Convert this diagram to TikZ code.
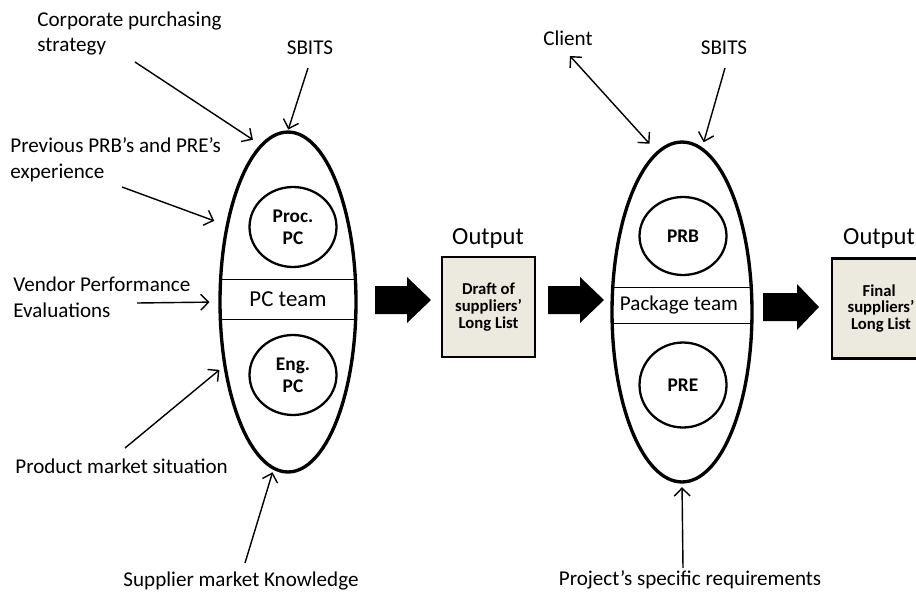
\documentclass[tikz,border=0pt]{standalone}
\usepackage{fontspec}
\setmainfont{Carlito}
\usetikzlibrary{shapes.geometric,arrows.meta}
\definecolor{boxfill}{RGB}{236,234,222}
\tikzset{
  lbl/.style={inner sep=0pt, align=left, anchor=west, font=\fontsize{12}{14.6}\selectfont},
  lblc/.style={inner sep=0pt, align=center, font=\fontsize{12}{14.6}\selectfont},
  team/.style={ellipse, draw, line width=1.9pt, minimum width=2.72cm, minimum height=6.8cm},
  member/.style={ellipse, draw, line width=1.3pt, minimum width=1.74cm, minimum height=1.6cm,
    align=center, inner sep=0pt, font=\fontsize{11}{12.5}\selectfont\bfseries},
  outbox/.style={rectangle, draw, line width=1.5pt, fill=boxfill, minimum width=1.86cm,
    minimum height=2cm, align=center, inner sep=0pt, font=\fontsize{9.5}{9.6}\selectfont\bfseries},
  outlbl/.style={inner sep=0pt, font=\fontsize{14}{16}\selectfont},
  feed/.style={line width=0.8pt, -{Straight Barb[length=4.5pt,width=9pt]}},
  feedboth/.style={line width=0.8pt, {Straight Barb[length=4.5pt,width=9pt]}-{Straight Barb[length=4.5pt,width=9pt]}},
  pics/fatarrow/.style={code={\fill (0,-14) -- (#1,-14) -- (#1,-23) -- (56,0) -- (#1,23) -- (#1,14) -- (0,14) -- cycle;}}
}
\begin{document}
\begin{tikzpicture}[x=0.02cm, y=-0.02cm]
\clip (0,0) rectangle (916,595);
\fill[white] (0,0) rectangle (916,595);

% ---- PC team ----
\node[team] (L) at (288,302) {};
\begin{scope}
  \clip (288,302) ellipse [x radius=68, y radius=170];
  \draw[line width=0.5pt] (200,279) -- (380,279) (200,319) -- (380,319);
\end{scope}
\node[inner sep=0pt, font=\fontsize{13}{15}\selectfont] (pct) at (288,299) {PC team};
\node[member] (proc) at (293,227) {Proc.\\PC};
\node[member] (eng) at (293,375) {Eng.\\PC};

% ---- Package team ----
\node[team, minimum width=2.8cm] (R) at (682,312) {};
\begin{scope}
  \clip (682,312) ellipse [x radius=70, y radius=170];
  \draw[line width=0.5pt] (600,287) -- (770,287) (600,323) -- (770,323);
\end{scope}
\node[inner sep=0pt, font=\fontsize{12}{14}\selectfont] (pkt) at (679,305) {Package team};
\node[member, minimum height=1.56cm] (prb) at (683,236) {PRB};
\node[member, minimum height=1.7cm] (pre) at (683,385) {PRE};

% ---- outputs ----
\node[outlbl] (out1) at (488,238) {Output};
\node[outbox] (box1) at (488.5,307) {Draft of\\suppliers'\\Long List};
\node[outlbl] (out2) at (879,238) {Output};
\node[outbox, minimum width=1.96cm] (box2) at (881,308.5) {\hspace*{-2pt}Final\\suppliers'\\Long List};

% ---- flow arrows ----
\pic at (375,300) {fatarrow=32};
\pic at (548,300) {fatarrow=32};
\pic at (763,307) {fatarrow=34};

% ---- inputs of the PC team ----
\node[lbl] (corp) at (37,33.5) {Corporate purchasing\\strategy};
\node[lblc] (sbL) at (310,48) {SBITS};
\node[lbl] (prev) at (10,159.5) {Previous PRB's and PRE's\\experience};
\node[lbl] (vend) at (13,297) {Vendor Performance\\Evaluations};
\node[lbl] (prod) at (15,466) {Product market situation};
\node[lblc] (supp) at (241,581) {Supplier market Knowledge};

\coordinate (corpS) at (135,62);
\coordinate (sbLS) at (308,68);
\coordinate (prevS) at (122,187);
\coordinate (vendS) at (137,303);
\coordinate (prodS) at (125,448);
\coordinate (suppS) at (245,563);

\draw[feed, shorten >=5pt] (corpS) -- (L.100);
\draw[feed, shorten >=0.5pt] (sbLS) -- (L.north);
\draw[feed, shorten >=7pt] (prevS) -- (L.129);
\draw[feed, shorten >=5pt] (vendS) -- (L.west);
\draw[feed, shorten >=3pt] (prodS) -- (L.225);
\draw[feed, shorten >=1.5pt] (suppS) -- (L.265);

% ---- inputs of the package team ----
\node[lblc] (client) at (568,38) {Client};
\node[lblc] (sbR) at (724,48) {SBITS};
\node[lblc] (proj) at (690,580) {Project's specific requirements};

\coordinate (clientS) at (570,56);
\coordinate (sbRS) at (725,68);
\coordinate (projS) at (683,568);

\draw[feedboth, shorten >=6pt] (clientS) -- (R.99);
\draw[feed, shorten >=3pt] (sbRS) -- (R.83);
\draw[feed, shorten >=2pt] (projS) -- (R.south);
\end{tikzpicture}
\end{document}
